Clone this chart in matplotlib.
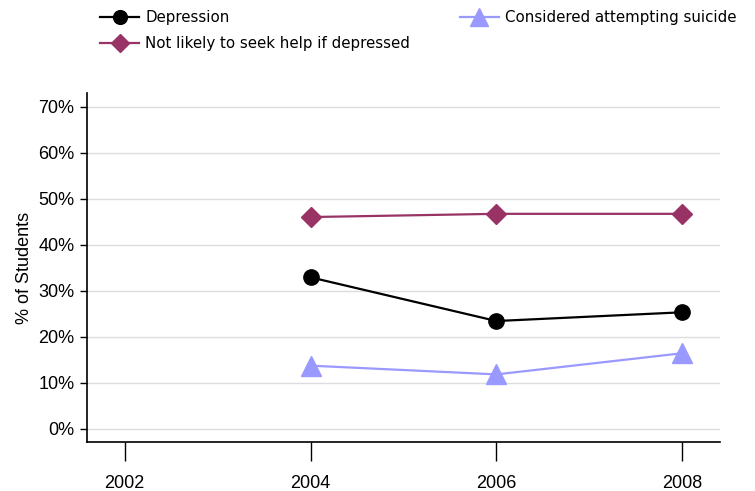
import matplotlib
matplotlib.use("Agg")
import matplotlib.pyplot as plt
from matplotlib.ticker import FuncFormatter

years = [2004, 2006, 2008]
depression = [32.9, 23.4, 25.3]
not_seek_help = [46.0, 46.7, 46.7]
suicide = [13.7, 11.8, 16.4]

x_ticks = [2002, 2004, 2006, 2008]
y_ticks = [0, 10, 20, 30, 40, 50, 60, 70]

fig = plt.figure(figsize=(7.55, 4.91), dpi=100)
ax = fig.add_axes([0.1152, 0.1004, 0.8384, 0.7096])

l1, = ax.plot(years, depression, color="black", lw=1.6, marker="o",
              markersize=11, label="Depression", zorder=3)
l2, = ax.plot(years, not_seek_help, color="#993366", lw=1.6, marker="D",
              markersize=10.5, label="Not likely to seek help if depressed", zorder=3)
l3, = ax.plot(years, suicide, color="#9999ff", lw=1.6, marker="^",
              markersize=14, label="Considered attempting suicide", zorder=3)

ax.set_xlim(2001.594, 2008.406)
ax.set_ylim(-2.83, 72.9)
ax.set_xticks(x_ticks)
ax.set_yticks(y_ticks)
ax.yaxis.set_major_formatter(FuncFormatter(lambda v, p: f"{v:.0f}%"))
ax.grid(axis="y", color="#dcdcdc", lw=1)
ax.set_axisbelow(True)

for s in ["top", "right"]:
    ax.spines[s].set_visible(False)
ax.spines["left"].set_linewidth(1.2)
ax.spines["bottom"].set_linewidth(1.2)

ax.tick_params(axis="x", length=14, width=1, pad=10, labelsize=13)
ax.tick_params(axis="y", length=5, width=1, pad=4, labelsize=13)
for t in ax.get_xticklabels() + ax.get_yticklabels():
    t.set_fontfamily("Liberation Sans")

ax.set_ylabel("% of Students", fontsize=13, family="Liberation Sans", labelpad=4)

fig.legend(handles=[l1, l2, l3], ncol=2, loc="upper left",
           bbox_to_anchor=(0.115, 1.007), frameon=False,
           prop={"family": "DejaVu Sans", "size": 10.8},
           handlelength=2.6, handletextpad=0.4, columnspacing=3.3,
           labelspacing=0.72, markerscale=0.9)

fig.savefig("out.png", dpi=100)
